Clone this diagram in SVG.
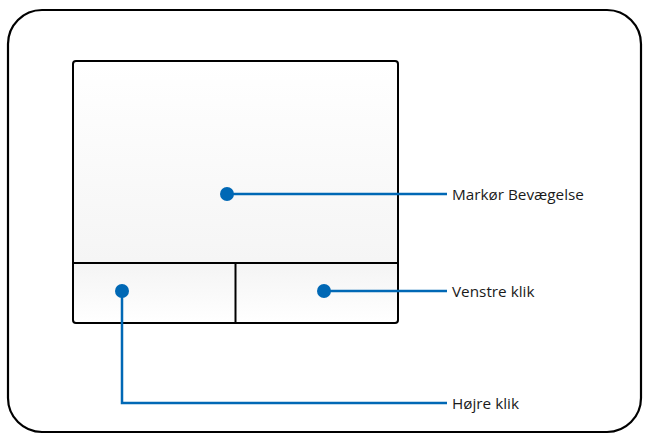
<svg xmlns="http://www.w3.org/2000/svg" width="650" height="437" viewBox="0 0 650 437">
<style>
.frame{fill:none;stroke:#000;stroke-width:2.2}
.edge{fill:none;stroke:#000;stroke-width:2}
.conn{fill:none;stroke:#0068b5;stroke-width:2.5}
.dot{fill:#0068b5}
.lbl{font-family:"Open Sans","Liberation Sans",sans-serif;font-size:15.3px;fill:#1a1a1a}
</style>
<defs>
<linearGradient id="pad" x1="0" y1="0" x2="0" y2="1">
<stop offset="0" stop-color="#ffffff"/>
<stop offset="1" stop-color="#f2f2f2"/>
</linearGradient>
<linearGradient id="btn" x1="0" y1="0" x2="0" y2="1">
<stop offset="0" stop-color="#f4f4f4"/>
<stop offset="1" stop-color="#ffffff"/>
</linearGradient>
</defs>
<rect x="0" y="0" width="650" height="437" fill="#fff"/>
<rect class="frame" x="8" y="10" width="633" height="422" rx="34" ry="34"/>
<g id="touchpad">
<rect x="73" y="61" width="325" height="262" rx="3" fill="url(#pad)" stroke="none"/>
<rect x="73" y="263" width="325" height="60" fill="url(#btn)"/>
<rect class="edge" x="73" y="61" width="325" height="262" rx="3"/>
<line class="edge" x1="73" y1="263" x2="398" y2="263"/>
<line class="edge" x1="235.5" y1="263" x2="235.5" y2="323"/>
</g>
<g id="connectors">
<line class="conn" x1="227" y1="194" x2="447" y2="194"/>
<line class="conn" x1="324" y1="291" x2="447" y2="291"/>
<polyline class="conn" points="122,291 122,403 447,403"/>
<circle class="dot" cx="227" cy="194" r="7"/>
<circle class="dot" cx="324" cy="291" r="7"/>
<circle class="dot" cx="122" cy="291" r="7"/>
</g>
<g id="label-markor"><text class="lbl" x="452" y="200">Markør Bevægelse</text></g>
<g id="label-venstre"><text class="lbl" x="452" y="297">Venstre klik</text></g>
<g id="label-hojre"><text class="lbl" x="452" y="409">Højre klik</text></g>
</svg>
